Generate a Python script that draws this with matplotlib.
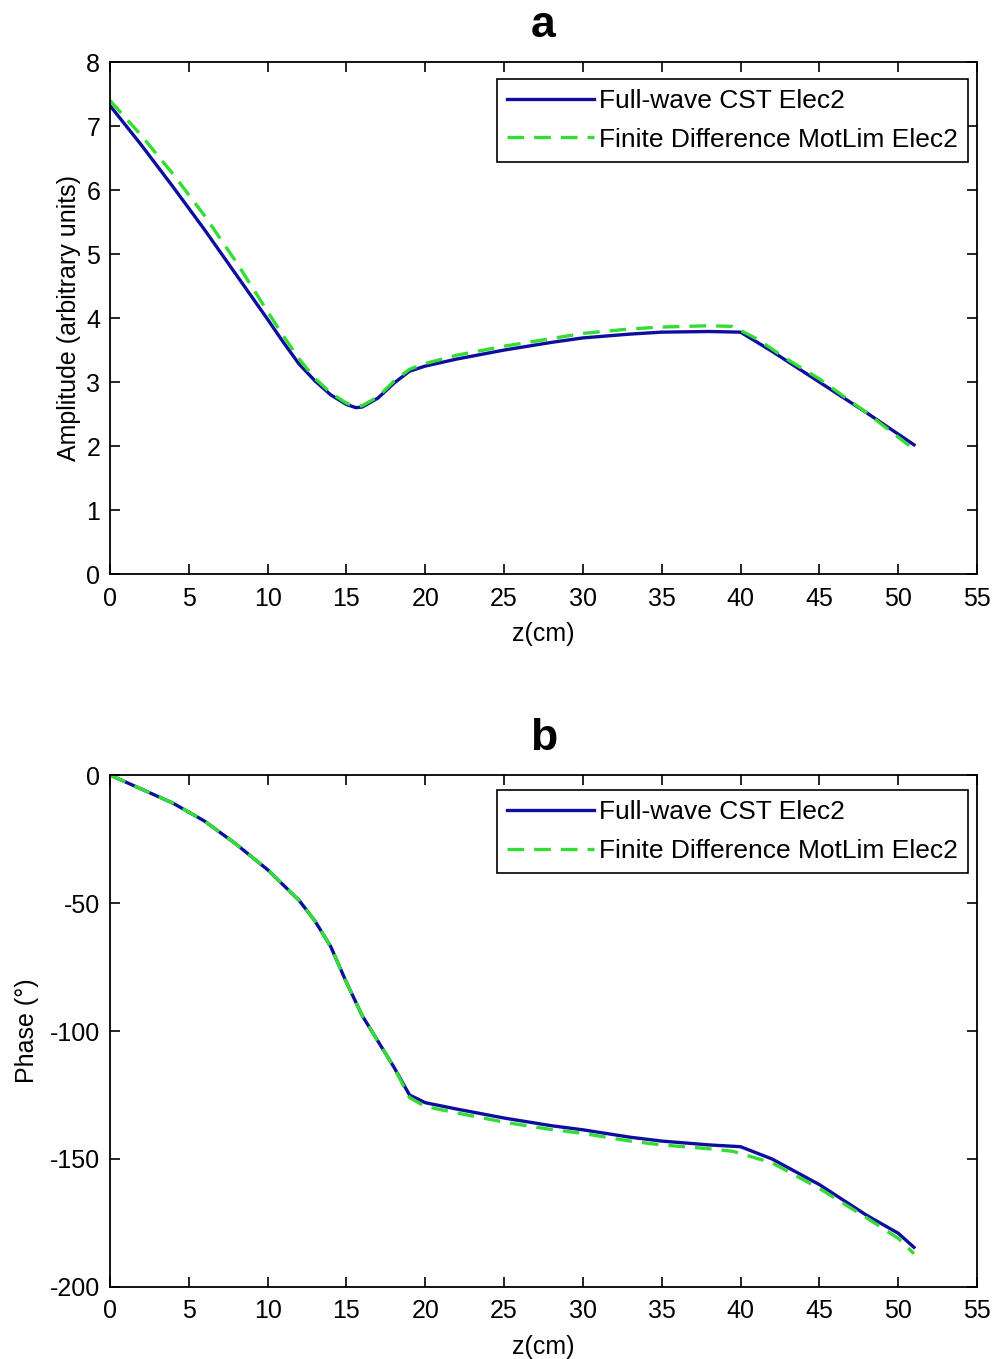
import matplotlib
matplotlib.use("Agg")
import matplotlib.pyplot as plt

plt.rcParams['font.family'] = ['Liberation Sans', 'DejaVu Sans']
plt.rcParams['axes.unicode_minus'] = False

# amplitude data
z_amp_cst = [0, 2, 4, 6, 8, 10, 11, 12, 13, 14, 15, 15.6, 16, 17, 18, 19, 20, 22, 25, 28, 30, 33, 35, 38, 40, 42, 45, 48, 51]
amp_cst = [7.32, 6.70, 6.05, 5.38, 4.68, 3.98, 3.62, 3.28, 3.02, 2.80, 2.65, 2.60, 2.61, 2.75, 2.98, 3.17, 3.25, 3.36, 3.50,
           3.62, 3.69, 3.75, 3.78, 3.79, 3.78, 3.48, 3.00, 2.52, 2.02]

z_amp_fd = [0, 2, 4, 6, 8, 10, 11, 12, 13, 14, 15, 15.6, 16, 17, 18, 19, 20, 22, 25, 28, 30, 33, 35, 38, 39.5, 41, 43, 45, 48, 51]
amp_fd = [7.40, 6.85, 6.25, 5.60, 4.88, 4.10, 3.72, 3.36, 3.06, 2.83, 2.67, 2.62, 2.63, 2.77, 3.01, 3.20, 3.29, 3.42, 3.56,
          3.68, 3.76, 3.83, 3.86, 3.88, 3.87, 3.68, 3.35, 3.05, 2.52, 1.95]

# phase data
z_ph_cst = [0, 2, 4, 6, 8, 10, 11, 12, 13, 14, 15, 16, 17, 18, 19, 20, 22, 25, 28, 30, 33, 35, 38, 40, 42, 45, 48, 50, 51]
ph_cst = [0, -5.5, -11, -18, -27, -37, -43, -49, -57, -67, -81, -94, -104, -114, -125, -128, -130.5, -134, -137, -138.6,
          -141.5, -143, -144.5, -145.2, -150, -160, -172, -179, -184.5]

z_ph_fd = [0, 2, 4, 6, 8, 10, 11, 12, 13, 14, 15, 16, 17, 18, 19, 20, 22, 25, 28, 30, 33, 35, 38, 39.5, 42, 45, 48, 50, 51]
ph_fd = [0, -5.5, -11, -18, -27, -37, -43, -49, -57, -67, -81, -94, -104, -114, -126, -129.5, -132, -135.6, -138.5, -140,
         -143, -144.5, -146, -147, -151.5, -161.5, -173, -181, -187]

labels = ["Full-wave CST Elec2", "Finite Difference MotLim Elec2"]
xticks = list(range(0, 56, 5))

blue = "#0e0e9e"
green = "#33dd33"

fig = plt.figure(figsize=(10, 13.59), dpi=100)
ax1 = fig.add_axes([0.11, 0.5776, 0.867, 0.3767])
ax2 = fig.add_axes([0.11, 0.053, 0.867, 0.3767])

ax1.plot(z_amp_cst, amp_cst, color=blue, lw=2.4, label=labels[0])
ax1.plot(z_amp_fd, amp_fd, color=green, lw=2.4, dashes=(5, 3), label=labels[1])
ax1.set_xlim(0, 55)
ax1.set_ylim(0, 8)
ax1.set_yticks(range(0, 9))
ax1.set_ylabel("Amplitude (arbitrary units)")
ax1.set_title("a", fontsize=32, fontweight="bold", pad=18)

ax2.plot(z_ph_cst, ph_cst, color=blue, lw=2.4, label=labels[0])
ax2.plot(z_ph_fd, ph_fd, color=green, lw=2.4, dashes=(5, 3), label=labels[1])
ax2.set_xlim(0, 55)
ax2.set_ylim(-200, 0)
ax2.set_yticks([-200, -150, -100, -50, 0])
ax2.set_ylabel("Phase (°)", labelpad=8)
ax2.set_title("b", fontsize=32, fontweight="bold", pad=18)

for ax, top in [(ax1, 0.967), (ax2, 0.970)]:
    ax.set_xticks(xticks)
    ax.set_xlabel("z(cm)")
    ax.tick_params(direction="in", top=True, right=True, length=7, width=1.2, labelsize=18)
    ax.tick_params(axis="x", pad=9)
    ax.tick_params(axis="y", pad=7)
    ax.xaxis.label.set_size(18)
    ax.yaxis.label.set_size(18)
    ax.xaxis.labelpad = 8
    for s in ax.spines.values():
        s.set_linewidth(1.3)
    leg = ax.legend(loc="upper right", bbox_to_anchor=(0.99, top), borderaxespad=0, fontsize=19,
                    handlelength=3.3, handletextpad=0.2, fancybox=False, framealpha=1,
                    edgecolor="black", labelspacing=0.55, borderpad=0.38)
    leg.get_frame().set_linewidth(1.2)

fig.savefig("out.png", dpi=100)
